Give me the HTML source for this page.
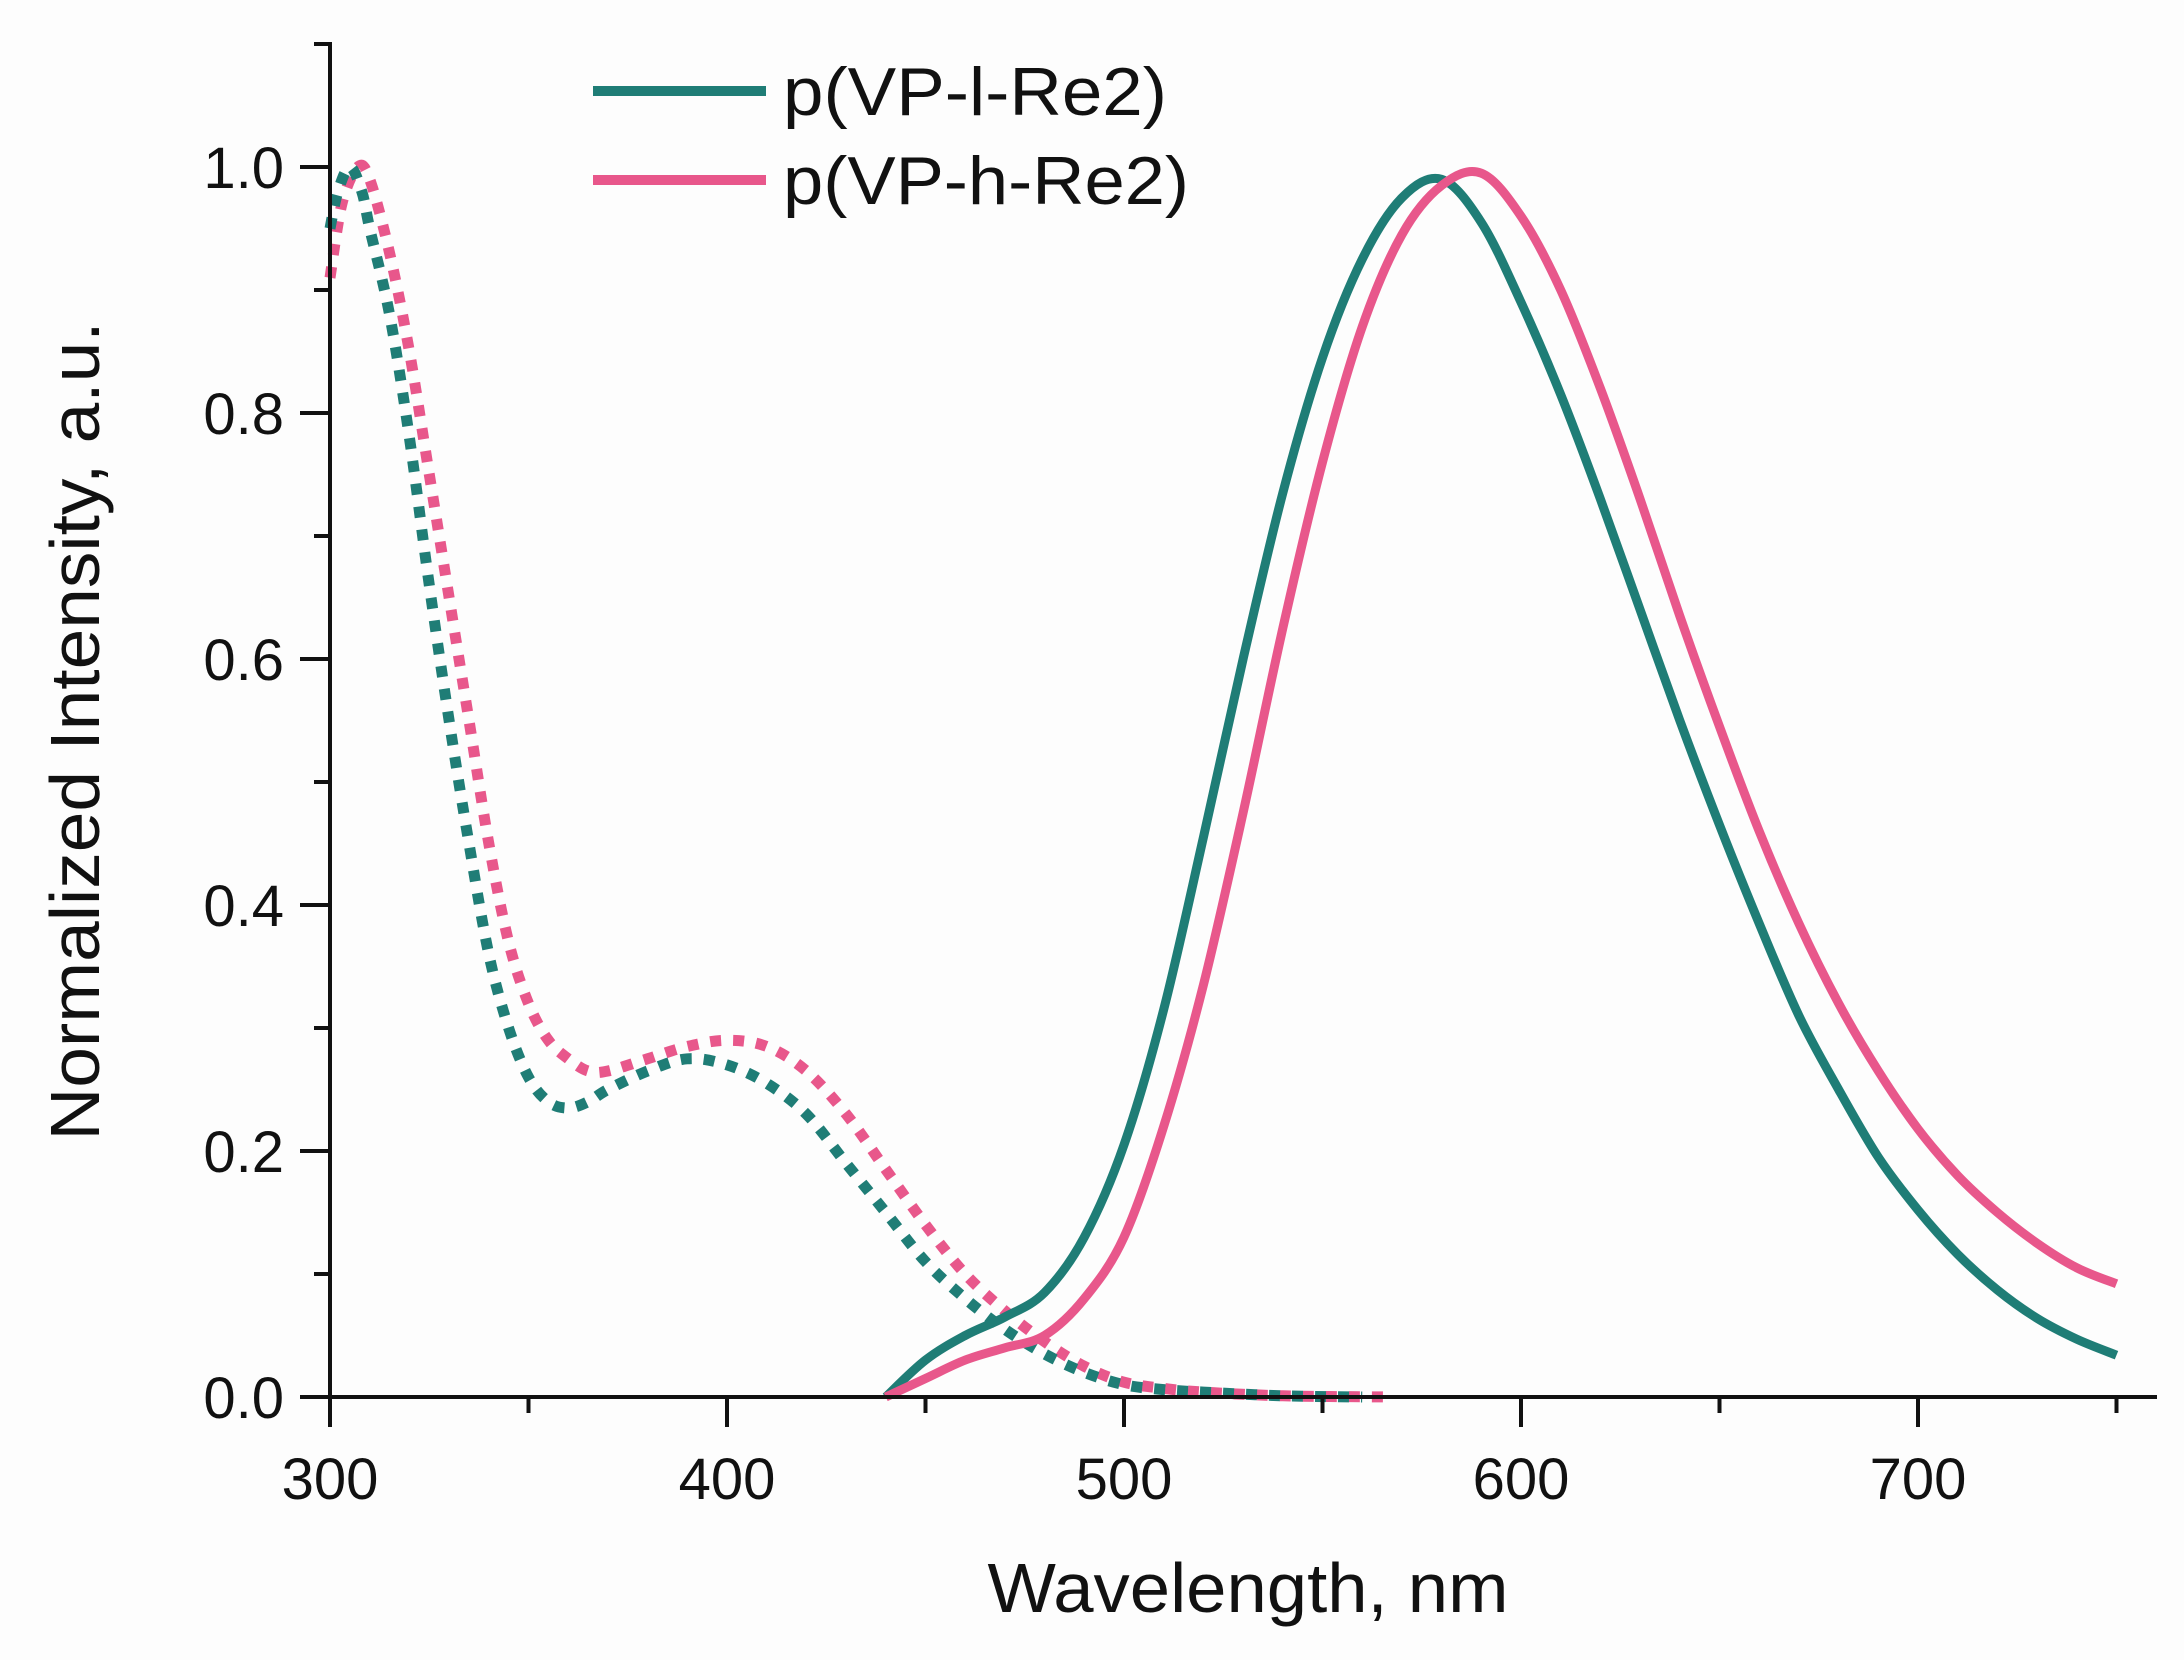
<!DOCTYPE html>
<html><head><meta charset="utf-8"><style>
html,body{margin:0;padding:0;background:#fdfdfd;}
svg{display:block;font-family:"Liberation Sans",Arial,sans-serif;}
</style></head><body>
<svg id="chart" width="2184" height="1660" viewBox="0 0 2184 1660" xmlns="http://www.w3.org/2000/svg">
<rect width="2184" height="1660" fill="#fdfdfd"/>
<g id="plot"></g>
<g id="axes"></g>
<g id="legend">
  <line x1="593" y1="91" x2="766" y2="91" stroke="#1f7d76" stroke-width="10"/>
  <text x="783" y="115" font-size="68" textLength="384" lengthAdjust="spacingAndGlyphs" fill="#111">p(VP-l-Re2)</text>
  <line x1="593" y1="180" x2="766" y2="180" stroke="#e8578b" stroke-width="10"/>
  <text x="783" y="204" font-size="68" textLength="406" lengthAdjust="spacingAndGlyphs" fill="#111">p(VP-h-Re2)</text>
</g>
<text x="1248" y="1612" font-size="70" text-anchor="middle" textLength="521" lengthAdjust="spacingAndGlyphs" fill="#111">Wavelength, nm</text>
<text transform="translate(99,731) rotate(-90)" font-size="70" text-anchor="middle" textLength="819" lengthAdjust="spacingAndGlyphs" fill="#111">Normalized Intensity, a.u.</text>
</svg>
<script>
const absWl_l=[300,302,305,308,310,315,320,325,330,335,340,345,350,355,360,365,370,380,390,400,410,420,430,440,450,460,470,480,490,500,510,520,540,560];
const absVal_l=[0.95,0.98,1.0,0.98,0.95,0.88,0.78,0.66,0.55,0.45,0.36,0.30,0.26,0.24,0.235,0.24,0.25,0.265,0.275,0.27,0.255,0.23,0.19,0.15,0.11,0.08,0.055,0.035,0.02,0.01,0.006,0.004,0.001,0];
const absWl_h=[300,303,307,310,315,320,325,330,335,340,345,350,355,360,365,370,380,390,400,410,420,430,440,450,460,470,480,490,500,510,520,540,567];
const absVal_h=[0.91,0.97,1.0,0.99,0.93,0.85,0.75,0.65,0.55,0.45,0.37,0.32,0.29,0.275,0.265,0.265,0.275,0.285,0.29,0.285,0.265,0.23,0.185,0.14,0.10,0.07,0.045,0.025,0.012,0.007,0.004,0.001,0];
const emWl=[440,450,460,470,480,490,500,510,520,530,540,550,560,570,580,590,600,610,620,630,640,650,660,670,680,690,700,710,720,730,740,750];
const emVal_l=[0,0.03,0.05,0.065,0.085,0.13,0.205,0.315,0.455,0.60,0.735,0.845,0.925,0.975,0.99,0.955,0.89,0.815,0.73,0.64,0.55,0.465,0.385,0.31,0.25,0.195,0.152,0.116,0.087,0.064,0.047,0.034];
const emVal_h=[0,0.015,0.03,0.04,0.05,0.08,0.13,0.22,0.335,0.475,0.625,0.76,0.87,0.945,0.985,0.995,0.96,0.9,0.82,0.73,0.635,0.545,0.46,0.385,0.32,0.265,0.218,0.18,0.15,0.125,0.105,0.092];
const xTicks=[300,400,500,600,700];
const yTicks=[0.0,0.2,0.4,0.6,0.8,1.0];
const yTickLabels=["0.0","0.2","0.4","0.6","0.8","1.0"];

const NS="http://www.w3.org/2000/svg";
const X0=330,XS=3.97,Y0=1397,YS=1230;
function xs(w){return X0+(w-300)*XS;}
function ys(v){return Y0-v*YS;}
function mk(tag,attrs,parent){const e=document.createElementNS(NS,tag);for(const k in attrs)e.setAttribute(k,attrs[k]);parent.appendChild(e);return e;}
function smooth(wl,val){
  const p=wl.map((w,i)=>[xs(w),ys(val[i])]);
  let d="M"+p[0][0].toFixed(1)+","+p[0][1].toFixed(1);
  for(let i=0;i<p.length-1;i++){
    const p0=p[i-1]||p[i],p1=p[i],p2=p[i+1],p3=p[i+2]||p2;
    const c1=[p1[0]+(p2[0]-p0[0])/6,p1[1]+(p2[1]-p0[1])/6];
    const c2=[p2[0]-(p3[0]-p1[0])/6,p2[1]-(p3[1]-p1[1])/6];
    d+=" C"+c1.map(v=>v.toFixed(1))+" "+c2.map(v=>v.toFixed(1))+" "+p2.map(v=>v.toFixed(1));
  }
  return d;
}
const plot=document.getElementById('plot');
let e;
e=mk('path',{d:smooth(absWl_h,absVal_h),fill:'none',stroke:'#e8578b','stroke-width':11,'stroke-dasharray':'11 12'},plot);


e=mk('path',{d:smooth(absWl_l,absVal_l),fill:'none',stroke:'#1f7d76','stroke-width':11,'stroke-dasharray':'11 12'},plot);


e=mk('path',{d:smooth(emWl,emVal_l),fill:'none',stroke:'#1f7d76','stroke-width':9,'stroke-linejoin':'round'},plot);


e=mk('path',{d:smooth(emWl,emVal_h),fill:'none',stroke:'#e8578b','stroke-width':9,'stroke-linejoin':'round'},plot);



const ax=document.getElementById('axes');
e=mk('line',{x1:X0,y1:42,x2:X0,y2:Y0+30,stroke:'#111','stroke-width':4},ax);


e=mk('line',{x1:X0-30,y1:Y0,x2:2157,y2:Y0,stroke:'#111','stroke-width':4},ax);


for(let w=300;w<=750;w+=50){
  const major=(w%100===0);
  e=mk('line',{x1:xs(w),y1:Y0,x2:xs(w),y2:Y0+(major?30:16),stroke:'#111','stroke-width':4},ax);
  
  
}
xTicks.forEach(w=>{
  const t=mk('text',{x:xs(w),y:Y0+102,'font-size':58,'text-anchor':'middle',fill:'#111'},ax);
  t.textContent=String(w);
  
  
});
for(let k=0;k<=11;k++){
  const v=k/10,major=(k%2===0);
  e=mk('line',{x1:X0-(major?30:16),y1:ys(v),x2:X0,y2:ys(v),stroke:'#111','stroke-width':4},ax);
  
  
}
yTicks.forEach((v,i)=>{
  const t=mk('text',{x:284,y:ys(v)+21,'font-size':58,'text-anchor':'end',fill:'#111'},ax);
  t.textContent=yTickLabels[i];
  
  
});
</script>
</body></html>
